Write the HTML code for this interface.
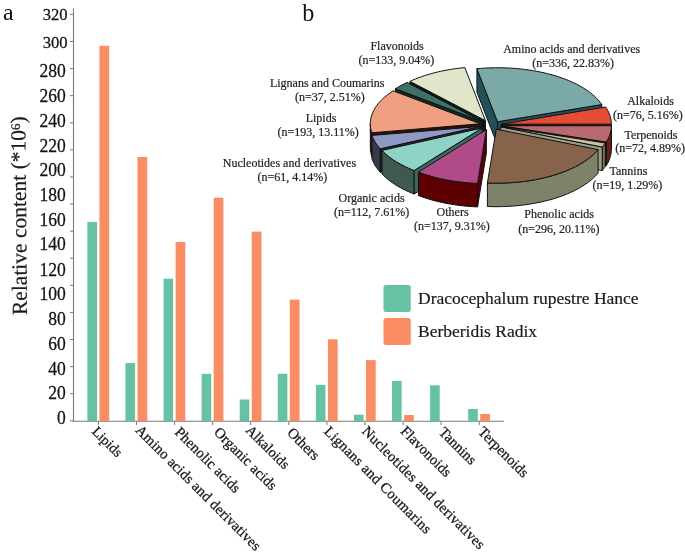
<!DOCTYPE html>
<html><head><meta charset="utf-8"><style>
html,body{margin:0;padding:0;background:#fff;}
body{width:685px;height:555px;overflow:hidden;font-family:"Liberation Serif",serif;}
svg{display:block;will-change:transform;}
</style></head><body>
<svg width="685" height="555" viewBox="0 0 685 555" font-family='"Liberation Serif", serif'><text transform="translate(67.6,20.48) scale(0.95,1)" text-anchor="end" font-size="17.5" fill="#111" stroke="#111" stroke-width="0.25">320</text>
<text transform="translate(67.6,47.73) scale(0.95,1)" text-anchor="end" font-size="17.5" fill="#111" stroke="#111" stroke-width="0.25">300</text>
<text transform="translate(65.8,77.11) scale(0.95,1)" text-anchor="end" font-size="18.5" fill="#111" stroke="#111" stroke-width="0.25">280</text>
<text transform="translate(65.8,101.70) scale(0.95,1)" text-anchor="end" font-size="18.5" fill="#111" stroke="#111" stroke-width="0.25">260</text>
<text transform="translate(65.8,126.51) scale(0.95,1)" text-anchor="end" font-size="18.5" fill="#111" stroke="#111" stroke-width="0.25">240</text>
<text transform="translate(65.8,151.60) scale(0.95,1)" text-anchor="end" font-size="18.5" fill="#111" stroke="#111" stroke-width="0.25">220</text>
<text transform="translate(65.8,176.00) scale(0.95,1)" text-anchor="end" font-size="18.5" fill="#111" stroke="#111" stroke-width="0.25">200</text>
<text transform="translate(65.8,201.30) scale(0.95,1)" text-anchor="end" font-size="18.5" fill="#111" stroke="#111" stroke-width="0.25">180</text>
<text transform="translate(65.8,225.70) scale(0.95,1)" text-anchor="end" font-size="18.5" fill="#111" stroke="#111" stroke-width="0.25">160</text>
<text transform="translate(65.8,250.41) scale(0.95,1)" text-anchor="end" font-size="18.5" fill="#111" stroke="#111" stroke-width="0.25">140</text>
<text transform="translate(65.8,275.81) scale(0.95,1)" text-anchor="end" font-size="18.5" fill="#111" stroke="#111" stroke-width="0.25">120</text>
<text transform="translate(65.8,300.00) scale(0.95,1)" text-anchor="end" font-size="18.5" fill="#111" stroke="#111" stroke-width="0.25">100</text>
<text transform="translate(65.8,325.11) scale(0.95,1)" text-anchor="end" font-size="18.5" fill="#111" stroke="#111" stroke-width="0.25">80</text>
<text transform="translate(65.8,349.71) scale(0.95,1)" text-anchor="end" font-size="18.5" fill="#111" stroke="#111" stroke-width="0.25">60</text>
<text transform="translate(65.8,374.50) scale(0.95,1)" text-anchor="end" font-size="18.5" fill="#111" stroke="#111" stroke-width="0.25">40</text>
<text transform="translate(65.8,399.31) scale(0.95,1)" text-anchor="end" font-size="18.5" fill="#111" stroke="#111" stroke-width="0.25">20</text>
<text transform="translate(65.8,424.00) scale(0.95,1)" text-anchor="end" font-size="18.5" fill="#111" stroke="#111" stroke-width="0.25">0</text>
<line x1="70" y1="14.40" x2="73.5" y2="14.40" stroke="#7a7a7a" stroke-width="1"/>
<line x1="70" y1="41.49" x2="73.5" y2="41.49" stroke="#7a7a7a" stroke-width="1"/>
<line x1="70" y1="68.59" x2="73.5" y2="68.59" stroke="#7a7a7a" stroke-width="1"/>
<line x1="70" y1="95.68" x2="73.5" y2="95.68" stroke="#7a7a7a" stroke-width="1"/>
<line x1="70" y1="122.77" x2="73.5" y2="122.77" stroke="#7a7a7a" stroke-width="1"/>
<line x1="70" y1="149.87" x2="73.5" y2="149.87" stroke="#7a7a7a" stroke-width="1"/>
<line x1="70" y1="176.96" x2="73.5" y2="176.96" stroke="#7a7a7a" stroke-width="1"/>
<line x1="70" y1="204.05" x2="73.5" y2="204.05" stroke="#7a7a7a" stroke-width="1"/>
<line x1="70" y1="231.15" x2="73.5" y2="231.15" stroke="#7a7a7a" stroke-width="1"/>
<line x1="70" y1="258.24" x2="73.5" y2="258.24" stroke="#7a7a7a" stroke-width="1"/>
<line x1="70" y1="285.33" x2="73.5" y2="285.33" stroke="#7a7a7a" stroke-width="1"/>
<line x1="70" y1="312.43" x2="73.5" y2="312.43" stroke="#7a7a7a" stroke-width="1"/>
<line x1="70" y1="339.52" x2="73.5" y2="339.52" stroke="#7a7a7a" stroke-width="1"/>
<line x1="70" y1="366.61" x2="73.5" y2="366.61" stroke="#7a7a7a" stroke-width="1"/>
<line x1="70" y1="393.71" x2="73.5" y2="393.71" stroke="#7a7a7a" stroke-width="1"/>
<line x1="70" y1="420.80" x2="73.5" y2="420.80" stroke="#7a7a7a" stroke-width="1"/>
<line x1="73.5" y1="8.5" x2="73.5" y2="421.7" stroke="#7a7a7a" stroke-width="1.1"/>
<line x1="73.5" y1="421.2" x2="504" y2="421.2" stroke="#7a7a7a" stroke-width="1.1"/>
<rect x="87.40" y="221.90" width="9.6" height="199.30" fill="#66c2a5"/>
<rect x="99.45" y="45.80" width="9.7" height="375.40" fill="#fc8d62"/>
<line x1="98.40" y1="421.2" x2="98.40" y2="425" stroke="#7a7a7a" stroke-width="1"/>
<rect x="125.48" y="363.10" width="9.6" height="58.10" fill="#66c2a5"/>
<rect x="137.53" y="157.00" width="9.7" height="264.20" fill="#fc8d62"/>
<line x1="136.48" y1="421.2" x2="136.48" y2="425" stroke="#7a7a7a" stroke-width="1"/>
<rect x="163.56" y="278.70" width="9.6" height="142.50" fill="#66c2a5"/>
<rect x="175.61" y="242.00" width="9.7" height="179.20" fill="#fc8d62"/>
<line x1="174.56" y1="421.2" x2="174.56" y2="425" stroke="#7a7a7a" stroke-width="1"/>
<rect x="201.64" y="373.80" width="9.6" height="47.40" fill="#66c2a5"/>
<rect x="213.69" y="197.70" width="9.7" height="223.50" fill="#fc8d62"/>
<line x1="212.64" y1="421.2" x2="212.64" y2="425" stroke="#7a7a7a" stroke-width="1"/>
<rect x="239.72" y="399.50" width="9.6" height="21.70" fill="#66c2a5"/>
<rect x="251.77" y="231.60" width="9.7" height="189.60" fill="#fc8d62"/>
<line x1="250.72" y1="421.2" x2="250.72" y2="425" stroke="#7a7a7a" stroke-width="1"/>
<rect x="277.80" y="373.80" width="9.6" height="47.40" fill="#66c2a5"/>
<rect x="289.85" y="299.60" width="9.7" height="121.60" fill="#fc8d62"/>
<line x1="288.80" y1="421.2" x2="288.80" y2="425" stroke="#7a7a7a" stroke-width="1"/>
<rect x="315.88" y="384.90" width="9.6" height="36.30" fill="#66c2a5"/>
<rect x="327.93" y="339.30" width="9.7" height="81.90" fill="#fc8d62"/>
<line x1="326.88" y1="421.2" x2="326.88" y2="425" stroke="#7a7a7a" stroke-width="1"/>
<rect x="353.96" y="414.70" width="9.6" height="6.50" fill="#66c2a5"/>
<rect x="366.01" y="360.10" width="9.7" height="61.10" fill="#fc8d62"/>
<line x1="364.96" y1="421.2" x2="364.96" y2="425" stroke="#7a7a7a" stroke-width="1"/>
<rect x="392.04" y="380.90" width="9.6" height="40.30" fill="#66c2a5"/>
<rect x="404.09" y="415.00" width="9.7" height="6.20" fill="#fc8d62"/>
<line x1="403.04" y1="421.2" x2="403.04" y2="425" stroke="#7a7a7a" stroke-width="1"/>
<rect x="430.12" y="385.30" width="9.6" height="35.90" fill="#66c2a5"/>
<line x1="441.12" y1="421.2" x2="441.12" y2="425" stroke="#7a7a7a" stroke-width="1"/>
<rect x="468.20" y="409.00" width="9.6" height="12.20" fill="#66c2a5"/>
<rect x="480.25" y="414.00" width="9.7" height="7.20" fill="#fc8d62"/>
<line x1="479.20" y1="421.2" x2="479.20" y2="425" stroke="#7a7a7a" stroke-width="1"/>
<text transform="translate(91.20,432.30) rotate(45)" font-size="14.2" letter-spacing="0.0" fill="#1a1a1a" stroke="#1a1a1a" stroke-width="0.3">Lipids</text>
<text transform="translate(134.78,431.00) rotate(45)" font-size="14.6" letter-spacing="0.15" fill="#1a1a1a" stroke="#1a1a1a" stroke-width="0.3">Amino acids and derivatives</text>
<text transform="translate(174.06,433.00) rotate(45)" font-size="14.6" letter-spacing="0.1" fill="#1a1a1a" stroke="#1a1a1a" stroke-width="0.3">Phenolic acids</text>
<text transform="translate(213.14,433.00) rotate(45)" font-size="14.6" letter-spacing="0.15" fill="#1a1a1a" stroke="#1a1a1a" stroke-width="0.3">Organic acids</text>
<text transform="translate(245.02,431.00) rotate(45)" font-size="14.2" letter-spacing="0.0" fill="#1a1a1a" stroke="#1a1a1a" stroke-width="0.3">Alkaloids</text>
<text transform="translate(286.40,433.50) rotate(45)" font-size="14.6" letter-spacing="0.0" fill="#1a1a1a" stroke="#1a1a1a" stroke-width="0.3">Others</text>
<text transform="translate(323.28,432.20) rotate(45)" font-size="14.6" letter-spacing="0.27" fill="#1a1a1a" stroke="#1a1a1a" stroke-width="0.3">Lignans and Coumarins</text>
<text transform="translate(361.26,432.10) rotate(45)" font-size="14.6" letter-spacing="0.18" fill="#1a1a1a" stroke="#1a1a1a" stroke-width="0.3">Nucleotides and derivatives</text>
<text transform="translate(399.84,432.00) rotate(45)" font-size="14.6" letter-spacing="0.0" fill="#1a1a1a" stroke="#1a1a1a" stroke-width="0.3">Flavonoids</text>
<text transform="translate(438.12,433.00) rotate(45)" font-size="14.6" letter-spacing="0.0" fill="#1a1a1a" stroke="#1a1a1a" stroke-width="0.3">Tannins</text>
<text transform="translate(477.20,432.50) rotate(45)" font-size="14.6" letter-spacing="0.0" fill="#1a1a1a" stroke="#1a1a1a" stroke-width="0.3">Terpenoids</text>
<text transform="translate(27,315.0) rotate(-90.5)" font-size="21.5" fill="#1a1a1a" stroke="#1a1a1a" stroke-width="0.2">Relative content (*10<tspan font-size="13" dy="-5.5">6</tspan><tspan dy="5.5">)</tspan></text>
<text x="3" y="20.3" font-size="24" fill="#111">a</text>
<text transform="translate(302.2,20.6) scale(0.95,1)" font-size="25.5" fill="#111">b</text>
<rect x="383.5" y="285" width="27.3" height="27" rx="2.5" fill="#66c2a5"/>
<rect x="383.5" y="318" width="27.3" height="27" rx="2.5" fill="#fc8d62"/>
<text x="418" y="303.6" font-size="17.5" fill="#1a1a1a" stroke="#1a1a1a" stroke-width="0.2">Dracocephalum rupestre Hance</text>
<text x="418" y="336.5" font-size="17.5" fill="#1a1a1a" stroke="#1a1a1a" stroke-width="0.2">Berberidis Radix</text>
<g><path d="M485.45,120.63 L409.95,81.36 L409.95,104.86 L485.45,144.13 Z" fill="#0a1a14" stroke="#111" stroke-width="1.0" stroke-linejoin="round"/><path d="M485.45,120.63 L409.95,81.36 L412.66,80.14 L415.46,78.97 L418.33,77.85 L421.28,76.77 L424.30,75.74 L427.39,74.76 L430.54,73.84 L433.76,72.96 L437.03,72.14 L440.36,71.37 L443.73,70.66 L447.16,70.01 L450.62,69.41 L454.13,68.86 L457.67,68.38 L461.24,67.95 L464.84,67.59 Z" fill="#dfe6c9" stroke="#111" stroke-width="1.0" stroke-linejoin="round"/><path d="M497.54,121.76 L476.93,68.72 L476.93,92.22 L497.54,145.26 Z" fill="#21525a" stroke="#111" stroke-width="1.0" stroke-linejoin="round"/><path d="M497.54,121.76 L601.79,104.53 L601.79,128.03 L497.54,145.26 Z" fill="#21525a" stroke="#111" stroke-width="1.0" stroke-linejoin="round"/><path d="M497.54,121.76 L476.93,68.72 L480.63,68.40 L484.36,68.15 L488.09,67.96 L491.84,67.83 L495.59,67.77 L499.35,67.77 L503.11,67.83 L506.85,67.95 L510.59,68.14 L514.31,68.39 L518.02,68.70 L521.69,69.08 L525.34,69.51 L528.96,70.01 L532.54,70.57 L536.08,71.18 L539.58,71.86 L543.03,72.59 L546.42,73.38 L549.76,74.23 L553.03,75.14 L556.24,76.09 L559.39,77.10 L562.46,78.17 L565.45,79.28 L568.37,80.44 L571.20,81.65 L573.95,82.91 L576.60,84.22 L579.17,85.56 L581.64,86.95 L584.01,88.38 L586.28,89.85 L588.45,91.36 L590.51,92.90 L592.47,94.47 L594.31,96.08 L596.04,97.72 L597.65,99.38 L599.15,101.07 L600.53,102.79 L601.79,104.53 Z" fill="#7aa9a8" stroke="#111" stroke-width="1.0" stroke-linejoin="round"/><path d="M482.58,121.71 L395.46,88.74 L395.46,112.24 L482.58,145.21 Z" fill="#0f2a22" stroke="#111" stroke-width="1.0" stroke-linejoin="round"/><path d="M482.58,121.71 L395.46,88.74 L397.62,87.41 L399.86,86.11 L402.19,84.85 L404.60,83.62 L407.08,82.44 Z" fill="#3f7068" stroke="#111" stroke-width="1.0" stroke-linejoin="round"/><path d="M371.83,132.79 L371.28,131.01 L370.85,129.22 L370.54,127.42 L370.36,125.62 L370.30,123.81 L370.30,147.31 L370.36,149.12 L370.54,150.92 L370.85,152.72 L371.28,154.51 L371.83,156.29 Z" fill="#4a2a22" stroke="#111" stroke-width="1.0" stroke-linejoin="round"/><path d="M480.30,123.81 L371.83,132.79 L371.83,156.29 L480.30,147.31 Z" fill="#2a1410" stroke="#111" stroke-width="1.0" stroke-linejoin="round"/><path d="M480.30,123.81 L371.83,132.79 L371.27,130.96 L370.83,129.12 L370.52,127.27 L370.35,125.42 L370.30,123.57 L370.38,121.72 L370.59,119.87 L370.93,118.02 L371.40,116.18 L372.00,114.35 L372.72,112.53 L373.58,110.73 L374.55,108.94 L375.66,107.16 L376.88,105.41 L378.23,103.68 L379.69,101.97 L381.28,100.29 L382.98,98.64 L384.80,97.01 L386.73,95.42 L388.77,93.86 L390.92,92.33 L393.17,90.85 Z" fill="#f0a080" stroke="#111" stroke-width="1.0" stroke-linejoin="round"/><path d="M501.37,124.20 L611.37,124.17 L611.37,147.67 L501.37,147.70 Z" fill="#3a0c08" stroke="#111" stroke-width="1.0" stroke-linejoin="round"/><path d="M501.37,124.20 L605.62,106.97 L606.70,108.64 L607.67,110.32 L608.53,112.02 L609.28,113.73 L609.91,115.46 L610.44,117.19 L610.84,118.93 L611.13,120.67 L611.31,122.42 L611.37,124.17 Z" fill="#e44c36" stroke="#111" stroke-width="1.0" stroke-linejoin="round"/><path d="M611.38,125.75 L611.32,127.59 L611.13,129.42 L610.81,131.26 L610.36,133.08 L609.79,134.90 L609.09,136.71 L608.27,138.50 L607.32,140.28 L606.25,142.05 L606.25,165.55 L607.32,163.78 L608.27,162.00 L609.09,160.21 L609.79,158.40 L610.36,156.58 L610.81,154.76 L611.13,152.92 L611.32,151.09 L611.38,149.25 Z" fill="#6e1c16" stroke="#111" stroke-width="1.0" stroke-linejoin="round"/><path d="M501.38,125.75 L606.25,142.05 L606.25,165.55 L501.38,149.25 Z" fill="#3a1010" stroke="#111" stroke-width="1.0" stroke-linejoin="round"/><path d="M501.38,125.75 L611.38,125.71 L611.32,127.56 L611.13,129.40 L610.81,131.24 L610.37,133.07 L609.80,134.89 L609.10,136.70 L608.27,138.50 L607.32,140.28 L606.25,142.05 Z" fill="#b96a70" stroke="#111" stroke-width="1.0" stroke-linejoin="round"/><path d="M380.33,148.81 L378.90,147.20 L377.58,145.57 L376.36,143.92 L375.26,142.25 L374.27,140.56 L373.39,138.86 L372.62,137.15 L371.97,135.42 L371.97,158.92 L372.62,160.65 L373.39,162.36 L374.27,164.06 L375.26,165.75 L376.36,167.42 L377.58,169.07 L378.90,170.70 L380.33,172.31 Z" fill="#363b49" stroke="#111" stroke-width="1.0" stroke-linejoin="round"/><path d="M480.44,126.44 L380.33,148.81 L380.33,172.31 L480.44,149.94 Z" fill="#25283a" stroke="#111" stroke-width="1.0" stroke-linejoin="round"/><path d="M480.44,126.44 L380.33,148.81 L378.90,147.20 L377.58,145.57 L376.36,143.92 L375.26,142.25 L374.27,140.56 L373.39,138.86 L372.62,137.15 L371.97,135.42 Z" fill="#8e9ac4" stroke="#111" stroke-width="1.0" stroke-linejoin="round"/><path d="M605.27,142.97 L604.58,144.01 L603.84,145.04 L603.06,146.07 L602.24,147.08 L602.24,170.58 L603.06,169.57 L603.84,168.54 L604.58,167.51 L605.27,166.47 Z" fill="#737a66" stroke="#111" stroke-width="1.0" stroke-linejoin="round"/><path d="M500.40,126.67 L602.24,147.08 L602.24,170.58 L500.40,150.17 Z" fill="#9a9e86" stroke="#111" stroke-width="1.0" stroke-linejoin="round"/><path d="M500.40,126.67 L605.27,142.97 L604.58,144.01 L603.84,145.04 L603.06,146.07 L602.24,147.08 Z" fill="#c9bda8" stroke="#111" stroke-width="1.0" stroke-linejoin="round"/><path d="M414.23,170.51 L411.31,169.35 L408.48,168.14 L405.73,166.88 L403.08,165.58 L400.51,164.23 L398.04,162.84 L395.67,161.41 L393.40,159.94 L391.23,158.44 L389.17,156.90 L387.21,155.32 L385.37,153.71 L383.64,152.08 L382.03,150.41 L382.03,173.91 L383.64,175.58 L385.37,177.21 L387.21,178.82 L389.17,180.40 L391.23,181.94 L393.40,183.44 L395.67,184.91 L398.04,186.34 L400.51,187.73 L403.08,189.08 L405.73,190.38 L408.48,191.64 L411.31,192.85 L414.23,194.01 Z" fill="#3f5951" stroke="#111" stroke-width="1.0" stroke-linejoin="round"/><path d="M482.14,128.03 L414.23,170.51 L414.23,194.01 L482.14,151.53 Z" fill="#3a6a60" stroke="#111" stroke-width="1.0" stroke-linejoin="round"/><path d="M482.14,128.03 L414.23,170.51 L411.31,169.35 L408.48,168.14 L405.73,166.88 L403.08,165.58 L400.51,164.23 L398.04,162.84 L395.67,161.41 L393.40,159.94 L391.23,158.44 L389.17,156.90 L387.21,155.32 L385.37,153.71 L383.64,152.08 L382.03,150.41 Z" fill="#8dd4c4" stroke="#111" stroke-width="1.0" stroke-linejoin="round"/><path d="M598.08,149.60 L596.60,151.29 L595.00,152.96 L593.29,154.60 L591.46,156.21 L589.53,157.79 L587.48,159.34 L585.33,160.85 L583.08,162.33 L580.72,163.76 L578.27,165.16 L575.72,166.51 L573.08,167.82 L570.34,169.09 L567.52,170.31 L564.62,171.48 L561.64,172.60 L558.58,173.67 L555.45,174.69 L552.25,175.66 L548.99,176.57 L545.66,177.42 L542.28,178.22 L538.84,178.97 L535.35,179.65 L531.82,180.28 L528.24,180.85 L524.63,181.35 L520.99,181.80 L517.31,182.18 L513.61,182.50 L509.90,182.76 L506.16,182.96 L502.41,183.10 L498.66,183.17 L494.90,183.18 L491.15,183.12 L487.40,183.01 L487.40,206.51 L491.15,206.62 L494.90,206.68 L498.66,206.67 L502.41,206.60 L506.16,206.46 L509.90,206.26 L513.61,206.00 L517.31,205.68 L520.99,205.30 L524.63,204.85 L528.24,204.35 L531.82,203.78 L535.35,203.15 L538.84,202.47 L542.28,201.72 L545.66,200.92 L548.99,200.07 L552.25,199.16 L555.45,198.19 L558.58,197.17 L561.64,196.10 L564.62,194.98 L567.52,193.81 L570.34,192.59 L573.08,191.32 L575.72,190.01 L578.27,188.66 L580.72,187.26 L583.08,185.83 L585.33,184.35 L587.48,182.84 L589.53,181.29 L591.46,179.71 L593.29,178.10 L595.00,176.46 L596.60,174.79 L598.08,173.10 Z" fill="#7d8369" stroke="#111" stroke-width="1.0" stroke-linejoin="round"/><path d="M496.24,129.18 L598.08,149.60 L596.60,151.29 L595.00,152.96 L593.29,154.60 L591.46,156.21 L589.53,157.79 L587.48,159.34 L585.33,160.85 L583.08,162.33 L580.72,163.76 L578.27,165.16 L575.72,166.51 L573.08,167.82 L570.34,169.09 L567.52,170.31 L564.62,171.48 L561.64,172.60 L558.58,173.67 L555.45,174.69 L552.25,175.66 L548.99,176.57 L545.66,177.42 L542.28,178.22 L538.84,178.97 L535.35,179.65 L531.82,180.28 L528.24,180.85 L524.63,181.35 L520.99,181.80 L517.31,182.18 L513.61,182.50 L509.90,182.76 L506.16,182.96 L502.41,183.10 L498.66,183.17 L494.90,183.18 L491.15,183.12 L487.40,183.01 Z" fill="#86634a" stroke="#111" stroke-width="1.0" stroke-linejoin="round"/><path d="M477.52,183.40 L473.75,183.22 L470.00,182.97 L466.27,182.66 L462.56,182.29 L458.88,181.86 L455.23,181.36 L451.62,180.81 L448.05,180.19 L444.52,179.51 L441.05,178.78 L437.63,177.98 L434.26,177.13 L430.96,176.22 L427.73,175.26 L424.56,174.24 L421.46,173.17 L418.45,172.05 L418.45,195.55 L421.46,196.67 L424.56,197.74 L427.73,198.76 L430.96,199.72 L434.26,200.63 L437.63,201.48 L441.05,202.28 L444.52,203.01 L448.05,203.69 L451.62,204.31 L455.23,204.86 L458.88,205.36 L462.56,205.79 L466.27,206.16 L470.00,206.47 L473.75,206.72 L477.52,206.90 Z" fill="#5c0002" stroke="#111" stroke-width="1.0" stroke-linejoin="round"/><path d="M486.36,129.57 L477.52,183.40 L477.52,206.90 L486.36,153.07 Z" fill="#5c0002" stroke="#111" stroke-width="1.0" stroke-linejoin="round"/><path d="M486.36,129.57 L477.52,183.40 L473.75,183.22 L470.00,182.97 L466.27,182.66 L462.56,182.29 L458.88,181.86 L455.23,181.36 L451.62,180.81 L448.05,180.19 L444.52,179.51 L441.05,178.78 L437.63,177.98 L434.26,177.13 L430.96,176.22 L427.73,175.26 L424.56,174.24 L421.46,173.17 L418.45,172.05 Z" fill="#b04a88" stroke="#111" stroke-width="1.0" stroke-linejoin="round"/></g>
<text x="370.4" y="50.2" font-size="12" fill="#222" stroke="#222" stroke-width="0.2">Flavonoids</text>
<text x="358.4" y="64.0" font-size="12" fill="#222" stroke="#222" stroke-width="0.2">(n=133, 9.04%)</text>
<text x="503.2" y="52.5" font-size="12" fill="#222" stroke="#222" stroke-width="0.2">Amino acids and derivatives</text>
<text x="532.2" y="66.5" font-size="12" fill="#222" stroke="#222" stroke-width="0.2">(n=336, 22.83%)</text>
<text x="269.9" y="86.5" font-size="12" fill="#222" stroke="#222" stroke-width="0.2">Lignans and Coumarins</text>
<text x="294.9" y="100.8" font-size="12" fill="#222" stroke="#222" stroke-width="0.2">(n=37, 2.51%)</text>
<text x="305.7" y="121.8" font-size="12" fill="#222" stroke="#222" stroke-width="0.2">Lipids</text>
<text x="277.5" y="135.5" font-size="12" fill="#222" stroke="#222" stroke-width="0.2">(n=193, 13.11%)</text>
<text x="627.2" y="104.8" font-size="12" fill="#222" stroke="#222" stroke-width="0.2">Alkaloids</text>
<text x="613.1" y="118.7" font-size="12" fill="#222" stroke="#222" stroke-width="0.2">(n=76, 5.16%)</text>
<text x="624.4" y="139.0" font-size="12" fill="#222" stroke="#222" stroke-width="0.2">Terpenoids</text>
<text x="615.3" y="152.4" font-size="12" fill="#222" stroke="#222" stroke-width="0.2">(n=72, 4.89%)</text>
<text x="222.8" y="166.8" font-size="12" fill="#222" stroke="#222" stroke-width="0.2">Nucleotides and derivatives</text>
<text x="257.6" y="181.3" font-size="12" fill="#222" stroke="#222" stroke-width="0.2">(n=61, 4.14%)</text>
<text x="609.5" y="175.2" font-size="12" fill="#222" stroke="#222" stroke-width="0.2">Tannins</text>
<text x="592.5" y="189.1" font-size="12" fill="#222" stroke="#222" stroke-width="0.2">(n=19, 1.29%)</text>
<text x="338.5" y="201.9" font-size="12" fill="#222" stroke="#222" stroke-width="0.2">Organic acids</text>
<text x="333.9" y="215.7" font-size="12" fill="#222" stroke="#222" stroke-width="0.2">(n=112, 7.61%)</text>
<text x="436.6" y="216.1" font-size="12" fill="#222" stroke="#222" stroke-width="0.2">Others</text>
<text x="414.0" y="230.0" font-size="12" fill="#222" stroke="#222" stroke-width="0.2">(n=137, 9.31%)</text>
<text x="524.3" y="218.3" font-size="12" fill="#222" stroke="#222" stroke-width="0.2">Phenolic acids</text>
<text x="518.3" y="233.4" font-size="12" fill="#222" stroke="#222" stroke-width="0.2">(n=296, 20.11%)</text></svg>
</body></html>
